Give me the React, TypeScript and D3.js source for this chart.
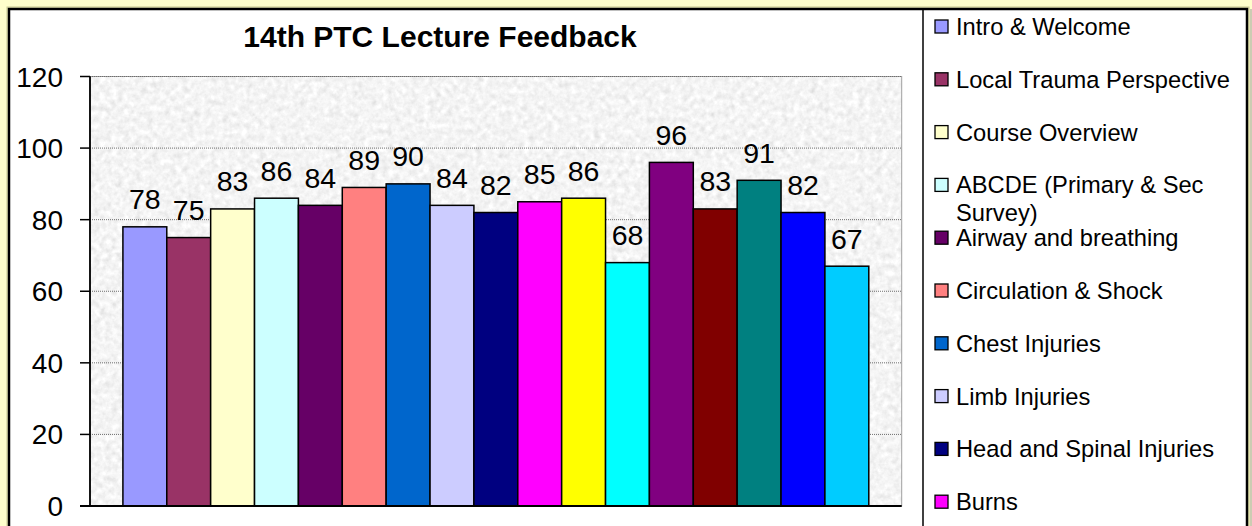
import React from "react";
import * as d3 from "d3";

const lectures = [
  "Intro & Welcome",
  "Local Trauma Perspective",
  "Course Overview",
  "ABCDE (Primary & Sec Survey)",
  "Airway and breathing",
  "Circulation & Shock",
  "Chest Injuries",
  "Limb Injuries",
  "Head and Spinal Injuries",
  "Burns",
  "Lecture 11",
  "Lecture 12",
  "Lecture 13",
  "Lecture 14",
  "Lecture 15",
  "Lecture 16",
  "Lecture 17",
];
const scores = [78, 75, 83, 86, 84, 89, 90, 84, 82, 85, 86, 68, 96, 83, 91, 82, 67];
const colors = [
  "#9999FF", "#993366", "#FFFFCC", "#CCFFFF", "#660066", "#FF8080", "#0066CC",
  "#CCCCFF", "#000080", "#FF00FF", "#FFFF00", "#00FFFF", "#800080", "#800000",
  "#008080", "#0000FF", "#00CCFF",
];
const yTicks = [0, 20, 40, 60, 80, 100, 120];
// legend lines as displayed (the legend is clipped after 10 entries)
const legendLines: string[][] = [
  ["Intro & Welcome"],
  ["Local Trauma Perspective"],
  ["Course Overview"],
  ["ABCDE (Primary & Sec", "Survey)"],
  ["Airway and breathing"],
  ["Circulation & Shock"],
  ["Chest Injuries"],
  ["Limb Injuries"],
  ["Head and Spinal Injuries"],
  ["Burns"],
];

const W = 1252;
const H = 526;
const font = "Arial, 'Liberation Sans', Helvetica, sans-serif";

export default function App() {
  const plotLeft = 90;
  const plotRight = 901.7;
  const plotTop = 76.5;
  const plotBottom = 506;

  const x = d3
    .scaleBand<number>()
    .domain(d3.range(scores.length))
    .range([plotLeft, plotRight])
    .paddingInner(0)
    .paddingOuter(0.75);
  const y = d3.scaleLinear().domain([0, 120]).range([plotBottom, plotTop]);

  const legendX = 923;
  const legendStep = 52.8;
  const legendFirst = 35;

  return (
    <svg
      width={W}
      height={H}
      style={{ position: "absolute", left: 0, top: 0, display: "block" }}
      fontFamily={font}
    >
      <defs>
        <filter
          id="tex"
          filterUnits="userSpaceOnUse"
          x={plotLeft}
          y={plotTop}
          width={plotRight - plotLeft}
          height={plotBottom - plotTop}
        >
          <feTurbulence type="fractalNoise" baseFrequency="0.17" numOctaves="3" seed="7" result="n" />
          <feColorMatrix
            in="n"
            type="matrix"
            values="0.33 0.33 0.33 0 0  0.33 0.33 0.33 0 0  0.33 0.33 0.33 0 0  0 0 0 0 1"
            result="g"
          />
          <feComponentTransfer in="g">
            <feFuncR type="linear" slope="0.62" intercept="0.60" />
            <feFuncG type="linear" slope="0.62" intercept="0.60" />
            <feFuncB type="linear" slope="0.62" intercept="0.60" />
          </feComponentTransfer>
        </filter>
      </defs>

      {/* page background */}
      <rect x={0} y={0} width={W} height={H} fill="#FFFFCC" />
      {/* chart area */}
      <rect x={7} y={7} width={1242} height={H} fill="none" stroke="#C8C890" strokeWidth={1} />
      <rect x={9} y={9} width={1238} height={H} fill="#FFFFFF" stroke="#000" strokeWidth={2.5} />
      <line x1={1251} x2={1251} y1={9} y2={H} stroke="#999" strokeWidth={1} />

      {/* title */}
      <text
        x={440}
        y={46.5}
        textAnchor="middle"
        fontSize={30}
        fontWeight="bold"
        fill="#000"
      >
        14th PTC Lecture Feedback
      </text>

      {/* plot background */}
      <rect
        x={plotLeft}
        y={plotTop}
        width={plotRight - plotLeft}
        height={plotBottom - plotTop}
        fill="#EBEBEB"
        filter="url(#tex)"
      />
      <rect
        x={plotLeft}
        y={plotTop}
        width={plotRight - plotLeft}
        height={plotBottom - plotTop}
        fill="none"
        stroke="#A0A0A0"
        strokeWidth={1}
      />

      {/* gridlines */}
      {yTicks
        .filter((t) => t > 0)
        .map((t) => (
          <line
            key={"g" + t}
            x1={plotLeft}
            x2={plotRight}
            y1={y(t)}
            y2={y(t)}
            stroke="#6E6E6E"
            strokeWidth={1}
            strokeDasharray="1 1"
          />
        ))}

      {/* bars */}
      {scores.map((v, i) => (
        <rect
          key={"b" + i}
          x={x(i)!}
          y={y(v)}
          width={x.bandwidth()}
          height={y(0) - y(v)}
          fill={colors[i]}
          stroke="#000"
          strokeWidth={1.5}
        />
      ))}

      {/* data labels */}
      {scores.map((v, i) => (
        <text
          key={"l" + i}
          x={x(i)! + x.bandwidth() / 2}
          y={y(v) - 17.5}
          textAnchor="middle"
          fontSize={28.5}
          fill="#000"
        >
          {v}
        </text>
      ))}

      {/* y axis */}
      <line x1={plotLeft} x2={plotLeft} y1={plotTop} y2={plotBottom} stroke="#000" strokeWidth={1.8} />
      <line x1={80} x2={plotRight} y1={plotBottom} y2={plotBottom} stroke="#000" strokeWidth={1.8} />
      {yTicks.map((t) => (
        <g key={"t" + t}>
          <line x1={80} x2={plotLeft} y1={y(t)} y2={y(t)} stroke="#000" strokeWidth={1.5} />
          <text x={63} y={y(t)} dy="0.36em" textAnchor="end" fontSize={28} fill="#000">
            {t}
          </text>
        </g>
      ))}

      {/* legend */}
      <line x1={legendX} x2={legendX} y1={9} y2={H} stroke="#000" strokeWidth={1.5} />
      {legendLines.map((lines, i) => {
        const base = legendFirst + i * legendStep;
        return (
          <g key={"lg" + i}>
            <rect
              x={935}
              y={base - 15}
              width={13}
              height={13}
              fill={colors[i]}
              stroke="#000"
              strokeWidth={1.3}
            />
            {lines.map((ln, j) => (
              <text key={j} x={956} y={base + j * 27.5} fontSize={23.7} fill="#000">
                {ln}
              </text>
            ))}
          </g>
        );
      })}
    </svg>
  );
}
